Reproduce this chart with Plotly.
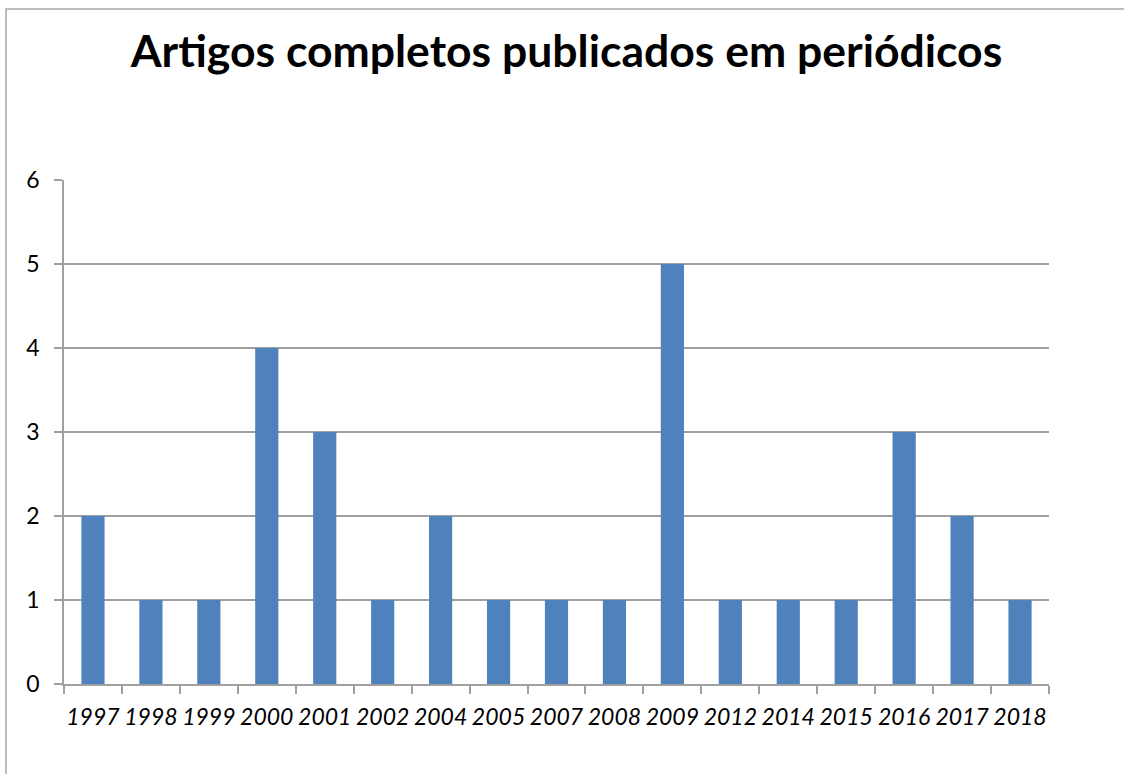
import plotly.graph_objects as go

years = ["1997", "1998", "1999", "2000", "2001", "2002", "2004", "2005", "2007",
         "2008", "2009", "2012", "2014", "2015", "2016", "2017", "2018"]
counts = [2, 1, 1, 4, 3, 1, 2, 1, 1, 1, 5, 1, 1, 1, 3, 2, 1]
title_text = "Artigos completos publicados em periódicos"

W, H = 1124, 774
L, R, T, B = 64, 1049, 180, 684
pw, ph = R - L, B - T

fig = go.Figure(go.Bar(x=years, y=counts, marker=dict(color="#4F81BD", line=dict(width=0))))

def px(xp):
    return (xp - L) / pw

def py(yp):
    return (B - yp) / ph

fig.update_layout(
    width=W, height=H,
    margin=dict(l=L, r=W - R, t=T, b=H - B, autoexpand=False),
    paper_bgcolor="white", plot_bgcolor="white",
    bargap=0.6,
    showlegend=False,
    font=dict(family="Lato, 'Open Sans', sans-serif", color="black"),
    title=dict(text="<b>" + title_text + "</b>", x=566.5 / W, xanchor="center",
               xref="container",
               y=1 - 51 / H, yanchor="middle", yref="container",
               font=dict(size=44.5, family="Lato, sans-serif", color="black")),
    xaxis=dict(type="category", showgrid=False, showline=True, linecolor="#A0A0A0",
               linewidth=1.5, ticks="outside", tickson="boundaries", ticklen=8,
               tickcolor="#A0A0A0", tickwidth=1.5, tickangle=0, automargin=False,
               tickfont=dict(size=23, style="italic", color="black"),
               ticklabelstandoff=12),
    yaxis=dict(range=[0, 6], dtick=1, showgrid=True, gridcolor="#A0A0A0", gridwidth=1.5,
               showline=True, linecolor="#A0A0A0", linewidth=1.5, ticks="outside",
               ticklen=8, tickcolor="#A0A0A0", tickwidth=1.5, zeroline=False,
               automargin=False,
               tickfont=dict(size=23, color="black"), ticklabelstandoff=10),
    shapes=[dict(type="rect", xref="paper", yref="paper",
                 x0=px(6), x1=px(1200), y0=py(850), y1=py(9),
                 line=dict(color="#A6A6A6", width=1.5), fillcolor="rgba(0,0,0,0)",
                 layer="below")],
)

fig.write_html("out.html", config={"displayModeBar": False},
               post_script="document.body.style.margin='0';")
